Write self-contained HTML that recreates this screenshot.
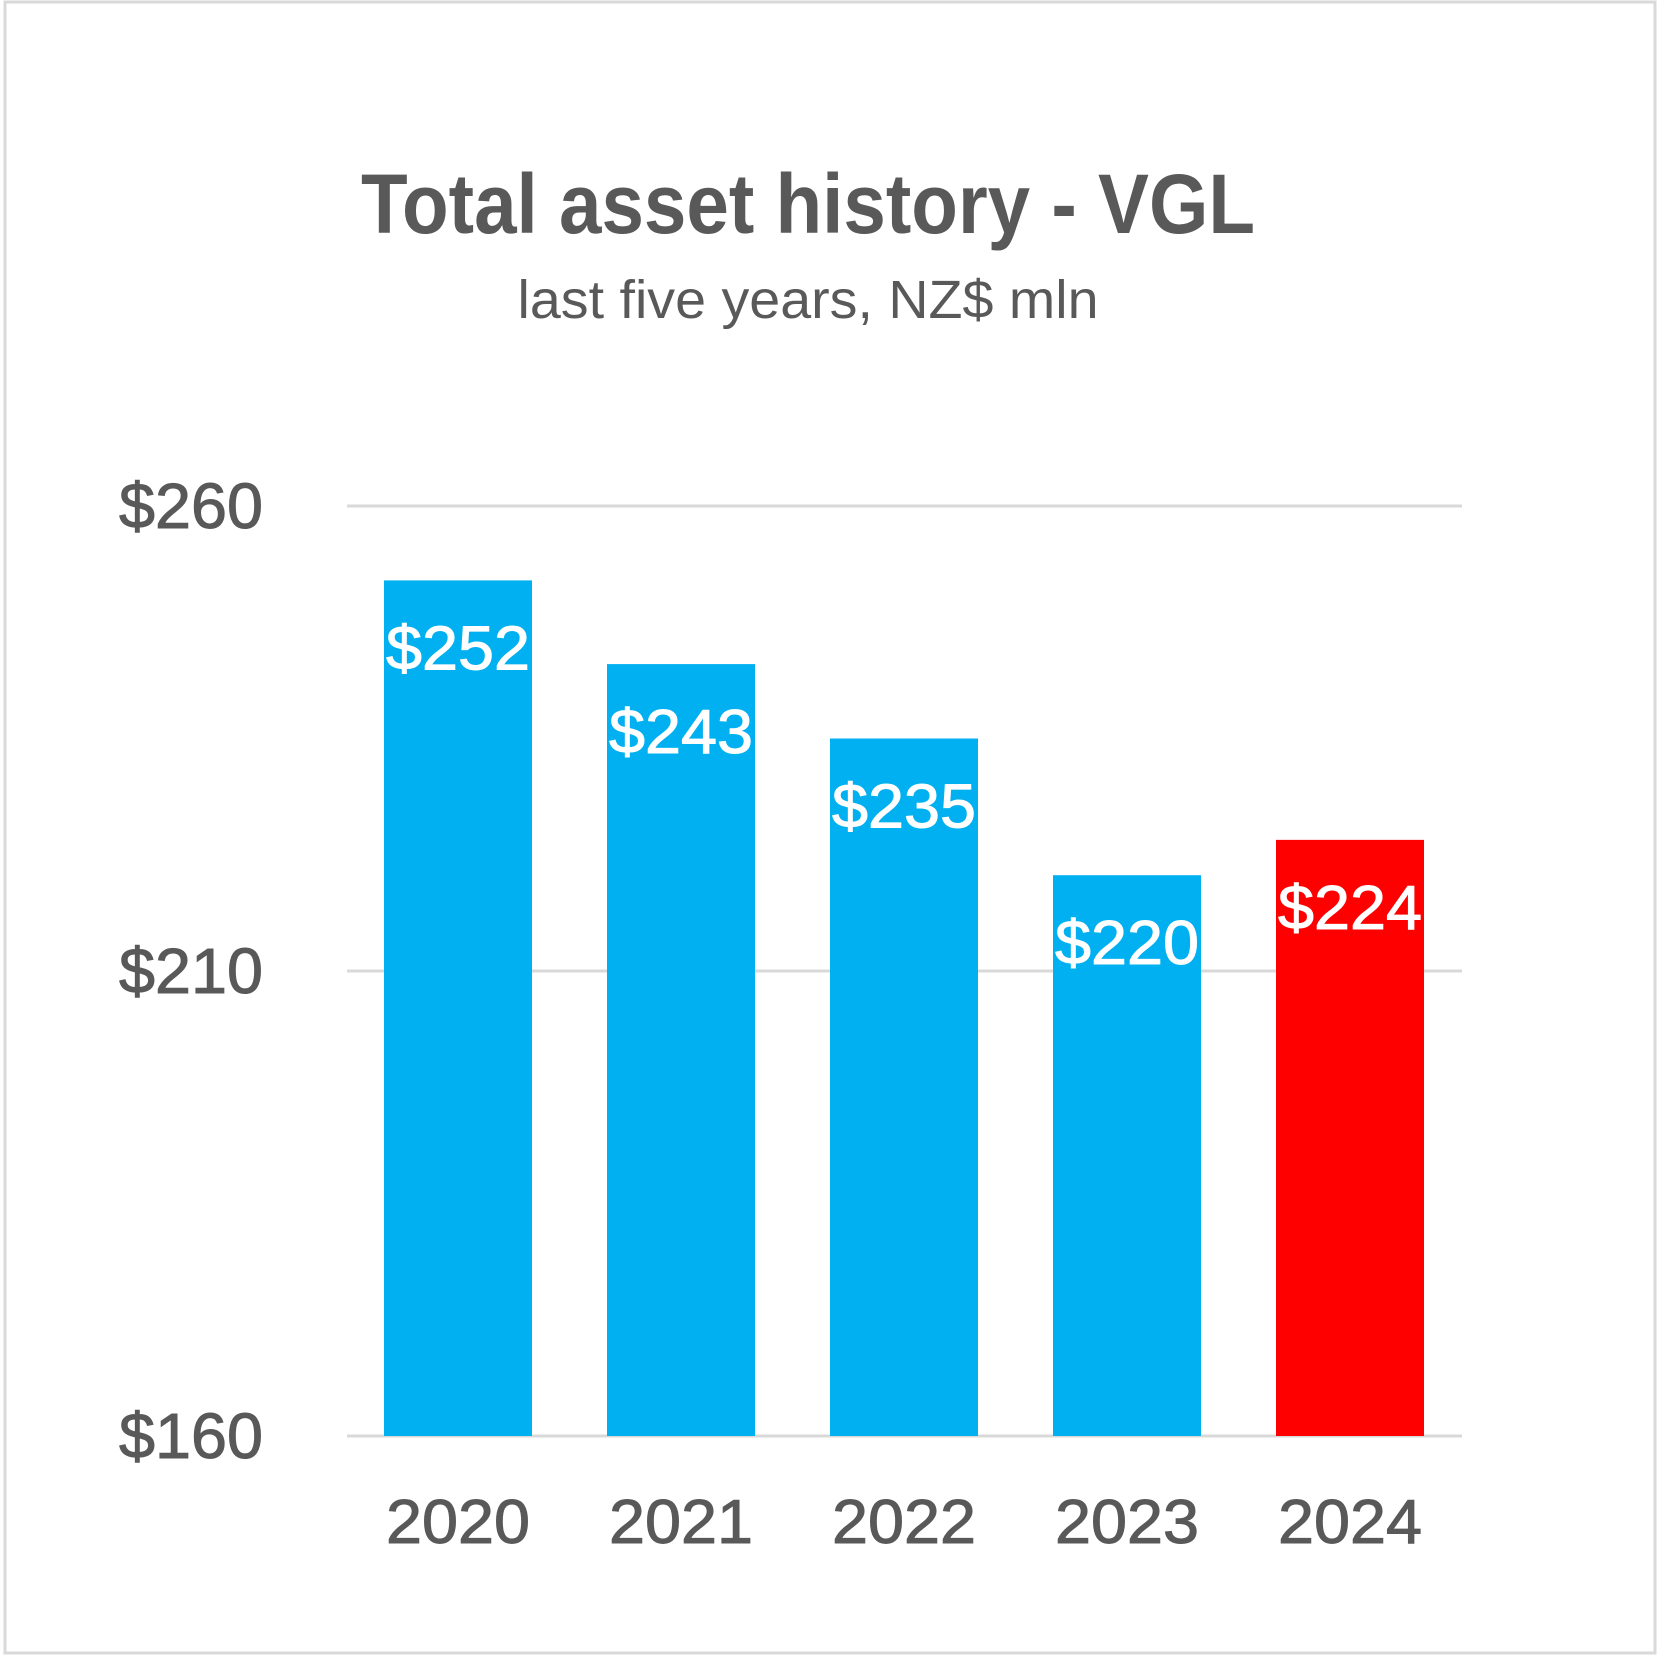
<!DOCTYPE html>
<html><head><meta charset="utf-8"><style>
html,body{margin:0;padding:0;background:#fff}
svg{display:block}
text{font-family:"Liberation Sans",sans-serif}
</style></head><body>
<svg id="chart" width="1663" height="1659" viewBox="0 0 1663 1659" xmlns="http://www.w3.org/2000/svg">
<rect x="5" y="2" width="1650" height="1651" fill="#fff" stroke="#d9d9d9" stroke-width="3"/>
<text x="808" y="233" text-anchor="middle" font-size="84" font-weight="bold" fill="#595959" textLength="894" lengthAdjust="spacingAndGlyphs">Total asset history - VGL</text>
<text x="808" y="318" text-anchor="middle" font-size="54" fill="#595959" textLength="581" lengthAdjust="spacingAndGlyphs">last five years, NZ$ mln</text>
<g id="grid"></g><g id="bars"></g><g id="labels"></g>
</svg>
<script>
const categories=["2020","2021","2022","2023","2024"];
const values=[252,243,235,220.3,224.1];
const barLabels=["$252","$243","$235","$220","$224"];
const ticks=[160,210,260];
const tickLabels=["$160","$210","$260"];
const NS="http://www.w3.org/2000/svg";
const y0=1436,yScale=9.3,yMin=160;
function y(v){return y0-(v-yMin)*yScale;}
function xc(i){return 458+i*223;}
const bw=148;
function mk(tag,attrs,parent){const e=document.createElementNS(NS,tag);for(const k in attrs)e.setAttribute(k,attrs[k]);parent.appendChild(e);return e;}
const grid=document.getElementById('grid'),bars=document.getElementById('bars'),labels=document.getElementById('labels');
ticks.forEach((t,i)=>{
  const l=mk('line',{x1:347,x2:1462,y1:y(t),y2:y(t),stroke:'#d9d9d9','stroke-width':3},grid);
  
  
  const tx=mk('text',{x:263,y:y(t)+22,'text-anchor':'end','font-size':64,fill:'#595959',stroke:'#595959','stroke-width':1,textLength:144,lengthAdjust:'spacingAndGlyphs'},grid);
  tx.textContent=tickLabels[i];
  
  
});
categories.forEach((c,i)=>{
  const top=y(values[i]);
  const r=mk('rect',{x:xc(i)-bw/2,y:top,width:bw,height:y0-top,fill:i===4?'#ff0000':'#00b0f0'},bars);
  
  
  const v=mk('text',{x:xc(i),y:top+89,'text-anchor':'middle','font-size':62,fill:'#fff',stroke:'#fff','stroke-width':1,textLength:144,lengthAdjust:'spacingAndGlyphs'},labels);
  v.textContent=barLabels[i];
  
  
  const xl=mk('text',{x:xc(i),y:1543,'text-anchor':'middle','font-size':62,fill:'#595959',stroke:'#595959','stroke-width':1,textLength:144,lengthAdjust:'spacingAndGlyphs'},labels);
  xl.textContent=c;
  
  
});
</script>
</body></html>
